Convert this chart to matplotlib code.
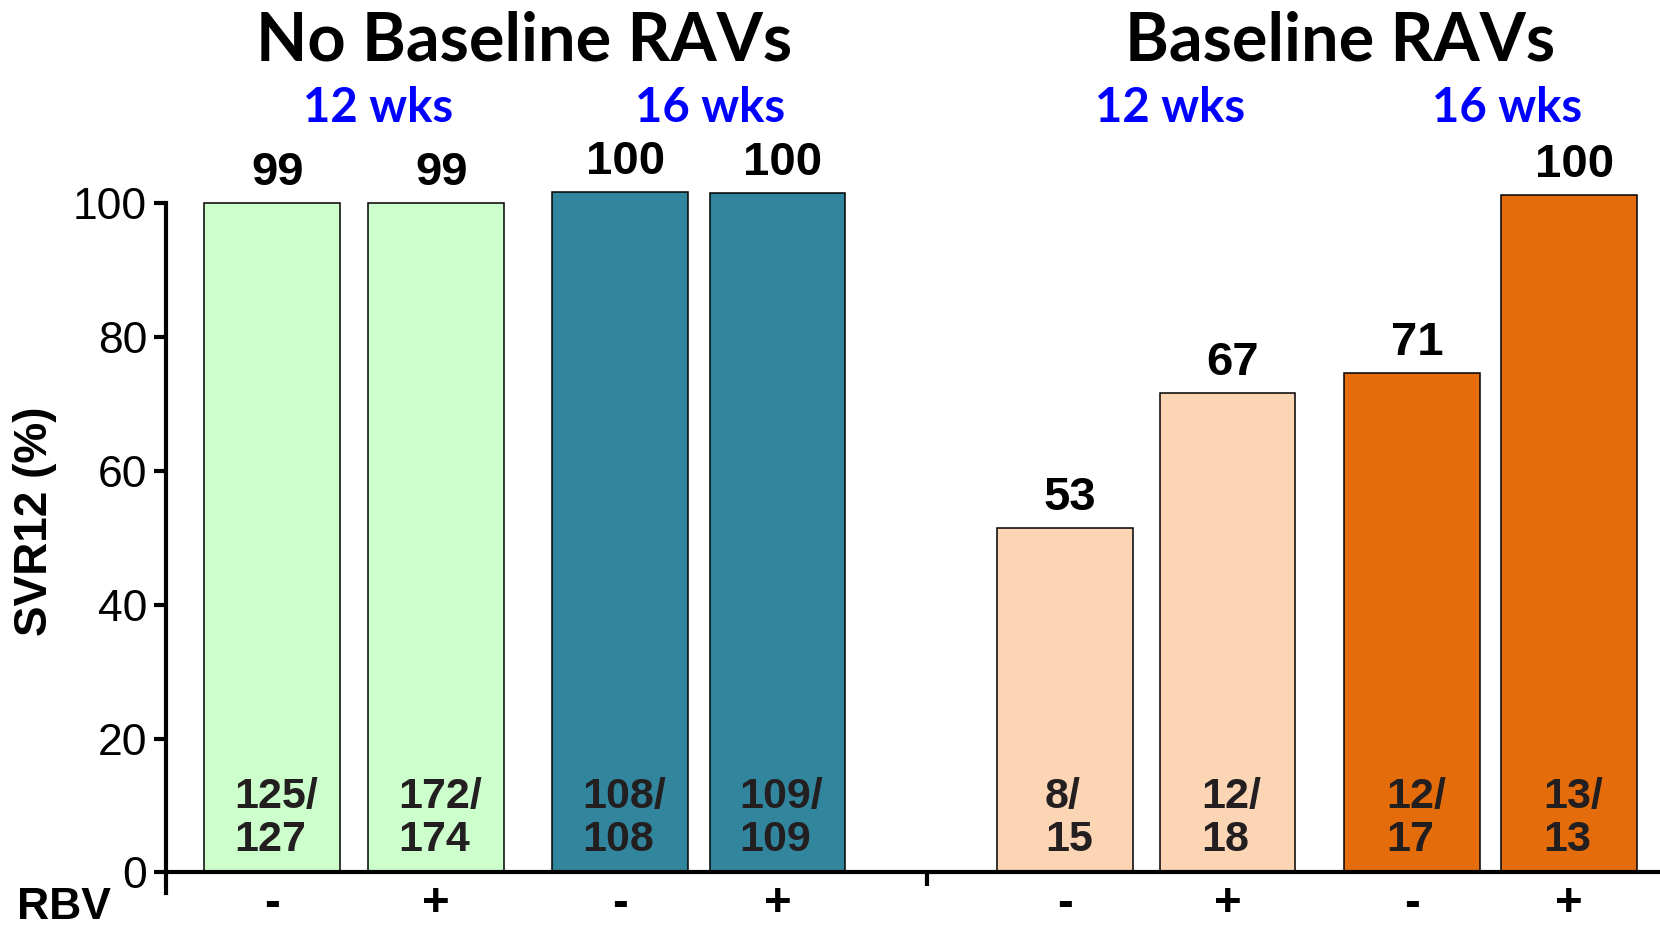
"""SVR12 by baseline RAV status, treatment duration and RBV use - bar chart."""
import matplotlib

matplotlib.use("Agg")
import matplotlib.pyplot as plt

plt.rcParams["font.family"] = ["Liberation Sans", "DejaVu Sans"]

# ---------------------------------------------------------------- data
groups = ["No Baseline RAVs", "Baseline RAVs"]
durations = ["12 wks", "16 wks", "12 wks", "16 wks"]
rbv = ["-", "+", "-", "+", "-", "+", "-", "+"]
bar_height = [100.0, 100.0, 101.7, 101.5, 51.5, 71.7, 74.6, 101.3]
svr_label = ["99", "99", "100", "100", "53", "67", "71", "100"]
n_responders = [125, 172, 108, 109, 8, 12, 12, 13]
n_total = [127, 174, 108, 109, 15, 18, 17, 13]

# ---------------------------------------------------------------- layout
xpos = [0.78, 1.99, 3.35, 4.51, 6.63, 7.83, 9.19, 10.35]   # bar centres (bar widths)
colors = ["#CCFFCC", "#CCFFCC", "#31859C", "#31859C",
          "#FCD5B5", "#FCD5B5", "#E46C0A", "#E46C0A"]
group_x = [0.316, 0.807]
duration_x = [0.228, 0.428, 0.705, 0.908]

fig = plt.figure(figsize=(16.6, 9.26), dpi=100)
ax = fig.add_axes([0.1, 0.0, 0.9, 823 / 926])
ax.set_xlim(0, 11.02)
ax.set_ylim(-8, 115)

ax.bar(xpos, bar_height, width=1.0, color=colors, edgecolor="black", linewidth=1.1, zorder=2)

for x, h, lbl in zip(xpos, bar_height, svr_label):
    ax.annotate(lbl, (x + 0.04, h), xytext=(0, 13), textcoords="offset points",
                ha="center", va="baseline", fontsize=34, fontweight="bold")

for x, r, t in zip(xpos, n_responders, n_total):
    ax.text(x + 0.03, 1.8, f"{r}/\n{t}", ha="center", va="bottom", multialignment="left",
            fontsize=31, fontweight="bold", color="#231F20", linespacing=1.12, zorder=3)

for x, s in zip(xpos, rbv):
    ax.text(x, -6.5, s, ha="center", va="baseline", fontsize=34, fontweight="bold",
            clip_on=False)

# axes styling
for side in ("top", "right"):
    ax.spines[side].set_visible(False)
ax.spines["bottom"].set_position(("data", 0))
ax.spines["bottom"].set_linewidth(3)
ax.spines["bottom"].set_zorder(4)
ax.spines["left"].set_linewidth(3)
ax.spines["left"].set_bounds(-3, 100)

ax.set_yticks([0, 20, 40, 60, 80, 100])
ax.tick_params(axis="y", labelsize=32, length=8.6, width=3, pad=5)
ax.set_xticks([])
ax.set_xticks([5.61], minor=True)
ax.tick_params(axis="x", which="minor", length=10, width=3, direction="out")

# outer texts
fig.text(0.021, 0.437, "SVR12 (%)", rotation=90, ha="center", va="center",
         fontsize=33, fontweight="bold")
fig.text(0.0383, 0.008, "RBV", ha="center", va="baseline", fontsize=32, fontweight="bold")

for gx, g in zip(group_x, groups):
    fig.text(gx, 0.9352, g, ha="center", va="baseline", fontsize=48,
             fontweight="bold", family=["Lato", "DejaVu Sans"])
for dx, d in zip(duration_x, durations):
    fig.text(dx, 0.8686, d, ha="center", va="baseline", fontsize=34,
             fontweight="bold", color="#0000FF", family=["Lato", "DejaVu Sans"])

fig.savefig("out.png", dpi=100)
